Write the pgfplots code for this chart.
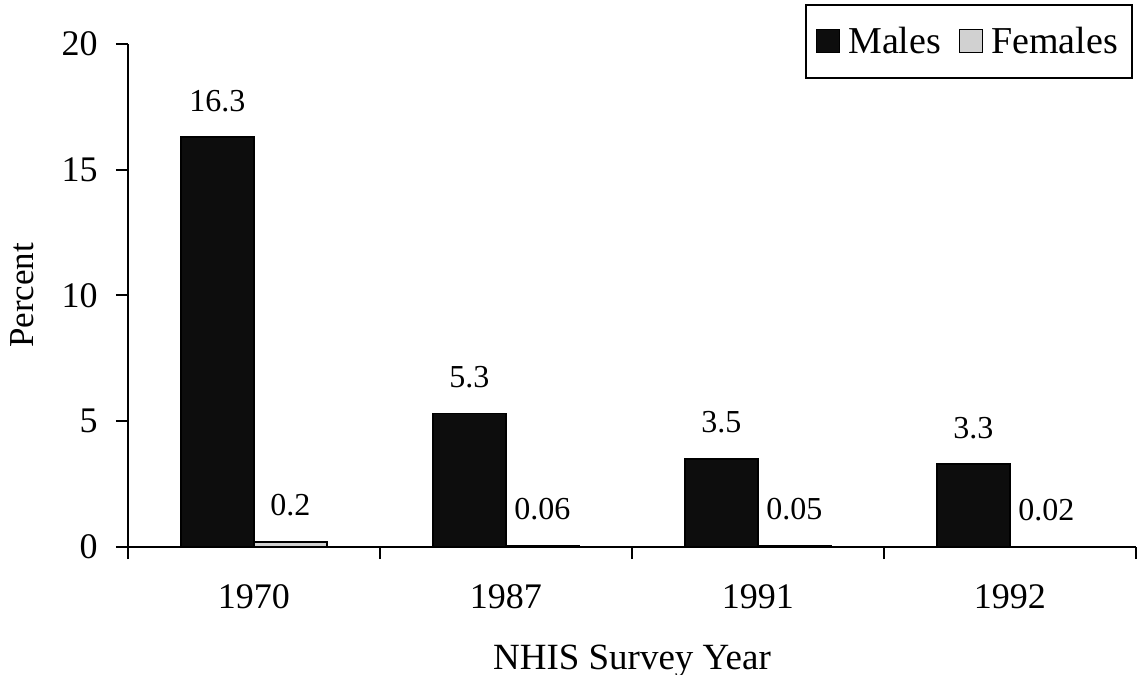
\documentclass[border=0pt]{standalone}
\usepackage{pgfplots}
\pgfplotsset{compat=1.18}
\usepackage{fontspec}
\setmainfont{Liberation Serif}
\begin{document}
\begin{tikzpicture}
\begin{axis}[
  name=ax,
  width=504pt, height=251.5pt, scale only axis,
  xmin=0, xmax=4, ymin=0, ymax=20,
  axis x line*=bottom, axis y line*=left,
  axis line style={line width=1pt, black},
  xtick={0.5,1.5,2.5,3.5},
  xticklabels={1970,1987,1991,1992},
  minor xtick={0,1,2,3,4},
  ytick={0,5,10,15,20},
  tick align=outside,
  major tick length=6pt, minor tick length=6pt,
  major x tick style={draw=none},
  minor x tick style={line width=1pt, black},
  y tick style={line width=1pt, black},
  tick label style={font=\fontsize{18}{21}\selectfont},
  /pgf/number format/assume math mode=true,
  xticklabel style={anchor=base, yshift=-24.5pt},
  yticklabel style={anchor=east, inner sep=0pt, xshift=-9pt},
  xlabel={NHIS Survey Year},
  ylabel={Percent},
  xlabel style={at={(axis description cs:0.5,-0.2266)}, anchor=center, font=\fontsize{18.5}{21}\selectfont},
  ylabel style={at={(axis description cs:-0.1052,0.5)}, anchor=center, rotate=0, font=\fontsize{17.5}{21}\selectfont},
  ybar=0pt, bar width=36.5pt,
  nodes near coords,
  point meta=explicit symbolic,
  every node near coord/.append style={anchor=base, yshift=13pt, font=\fontsize{16}{19}\selectfont},
  legend columns=2,
  legend style={at={(axis description cs:0.997,1.0795)}, anchor=north east,
    draw=black, line width=1pt, font=\fontsize{19}{22}\selectfont,
    inner xsep=5pt, inner ysep=9pt,
    /tikz/every odd column/.append style={column sep=2pt},
    /tikz/every even column/.append style={column sep=7pt}},
  legend image code/.code={\draw[#1, line width=0.6pt] (0pt,-5.5pt) rectangle (11.5pt,6pt);},
  clip=false,
]
\addplot[fill=black!95, draw=black, line width=0.6pt] coordinates {
  (0.5,16.3) [16.3] (1.5,5.3) [5.3] (2.5,3.5) [3.5] (3.5,3.3) [3.3]};
\addplot[fill=black!18, draw=black, line width=0.6pt] coordinates {
  (0.5,0.2) [0.2] (1.5,0.06) [0.06] (2.5,0.05) [0.05] (3.5,0.02) [0.02]};
\legend{Males,Females}
\end{axis}
\pgfresetboundingbox
\path (ax.south west) ++(-64pt,-64pt) rectangle ++(568.5pt,337.5pt);
\end{tikzpicture}
\end{document}
